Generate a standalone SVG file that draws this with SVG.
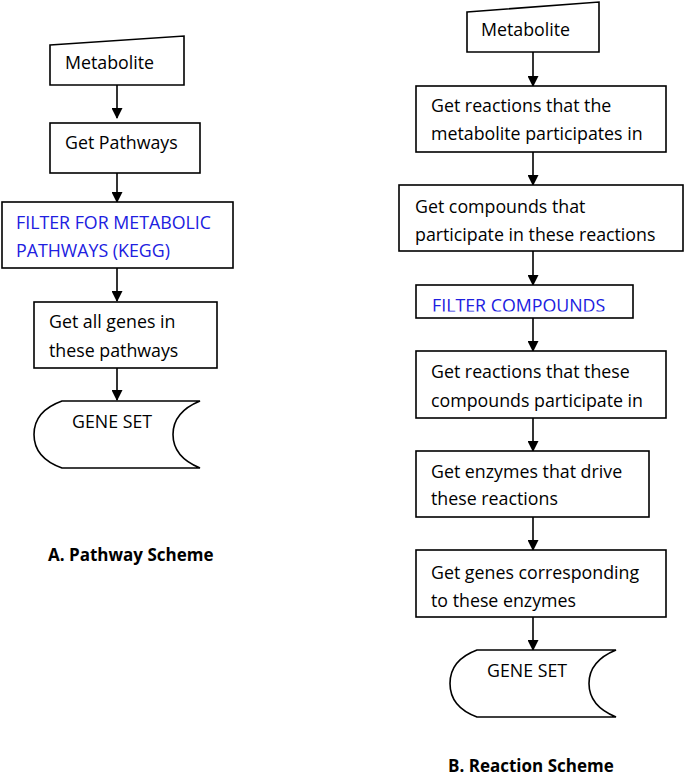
<svg xmlns="http://www.w3.org/2000/svg" width="685" height="778" viewBox="0 0 685 778">
<defs>
<marker id="ah" markerWidth="11" markerHeight="11" refX="10" refY="5.5" orient="auto" markerUnits="userSpaceOnUse">
<path d="M0,0 L11,5.5 L0,11 Z" fill="#000"/>
</marker>
<clipPath id="fc"><rect x="416" y="285" width="217" height="26.5"/></clipPath>
<style>
.b{fill:#fff;stroke:#000;stroke-width:1.6}
.t{font-family:"Open Sans","Noto Sans",sans-serif;font-size:17.8px;fill:#000}
.blue{fill:#2020e0}
.h{font-family:"Open Sans","Noto Sans",sans-serif;font-size:17px;font-weight:bold;fill:#000}
.c line{stroke:#000;stroke-width:1.6;marker-end:url(#ah)}
</style>
</defs>
<rect width="685" height="778" fill="#fff"/>
<g class="c" id="connectors">
<line x1="117" y1="85" x2="117" y2="118"/>
<line x1="117" y1="173" x2="117" y2="202"/>
<line x1="117" y1="268" x2="117" y2="301"/>
<line x1="117" y1="368" x2="117" y2="400"/>
<line x1="533" y1="52" x2="533" y2="86"/>
<line x1="533" y1="152" x2="533" y2="185"/>
<line x1="533" y1="251" x2="533" y2="285"/>
<line x1="533" y1="318" x2="533" y2="351"/>
<line x1="533" y1="418" x2="533" y2="451"/>
<line x1="533" y1="517" x2="533" y2="550"/>
<line x1="533" y1="617" x2="533" y2="650"/>
</g>
<g id="a-metabolite"><path class="b" d="M50,45 L184,36 L184,85 L50,85 Z"/><text class="t" x="65" y="69">Metabolite</text></g>
<g id="a-pathways"><rect class="b" x="50" y="123" width="150" height="50"/><text class="t" x="65" y="149">Get Pathways</text></g>
<g id="a-filter"><rect class="b" x="2" y="202" width="231" height="66"/><text class="t blue" x="16" y="229">FILTER FOR METABOLIC</text><text class="t blue" x="16" y="257">PATHWAYS (KEGG)</text></g>
<g id="a-genes"><rect class="b" x="34" y="302" width="183" height="66"/><text class="t" x="49" y="328">Get all genes in</text><text class="t" x="49" y="357">these pathways</text></g>
<g id="a-geneset"><path class="b" d="M62,401 L200,401 Q173,412 173,434.5 Q173,457 200,468 L62,468 Q34,458 34,434.5 Q34,411 62,401 Z"/><text class="t" x="72" y="428">GENE SET</text></g>
<text class="h" x="48" y="561">A. Pathway Scheme</text>
<g id="b-metabolite"><path class="b" d="M467,12 L599,2 L599,52 L467,52 Z"/><text class="t" x="481" y="36">Metabolite</text></g>
<g id="b-reactions"><rect class="b" x="416" y="86" width="250" height="66"/><text class="t" x="431" y="112">Get reactions that the</text><text class="t" x="431" y="140">metabolite participates in</text></g>
<g id="b-compounds"><rect class="b" x="399" y="185" width="284" height="66"/><text class="t" x="415" y="213">Get compounds that</text><text class="t" x="415" y="241">participate in these reactions</text></g>
<g id="b-filter"><rect class="b" x="416" y="285" width="217" height="33"/><text class="t blue" x="432" y="312" clip-path="url(#fc)">FILTER COMPOUNDS</text></g>
<g id="b-reactions2"><rect class="b" x="416" y="351" width="250" height="67"/><text class="t" x="431" y="378">Get reactions that these</text><text class="t" x="431" y="407">compounds participate in</text></g>
<g id="b-enzymes"><rect class="b" x="416" y="451" width="233" height="66"/><text class="t" x="431" y="478">Get enzymes that drive</text><text class="t" x="431" y="505">these reactions</text></g>
<g id="b-genes"><rect class="b" x="416" y="550" width="250" height="67"/><text class="t" x="431" y="579">Get genes corresponding</text><text class="t" x="431" y="607">to these enzymes</text></g>
<g id="b-geneset"><path class="b" d="M477,650 L616,650 Q589,661 589,683.5 Q589,706 616,717 L477,717 Q450,707 450,683.5 Q450,660 477,650 Z"/><text class="t" x="487" y="677">GENE SET</text></g>
<text class="h" x="448" y="772">B. Reaction Scheme</text>
</svg>
